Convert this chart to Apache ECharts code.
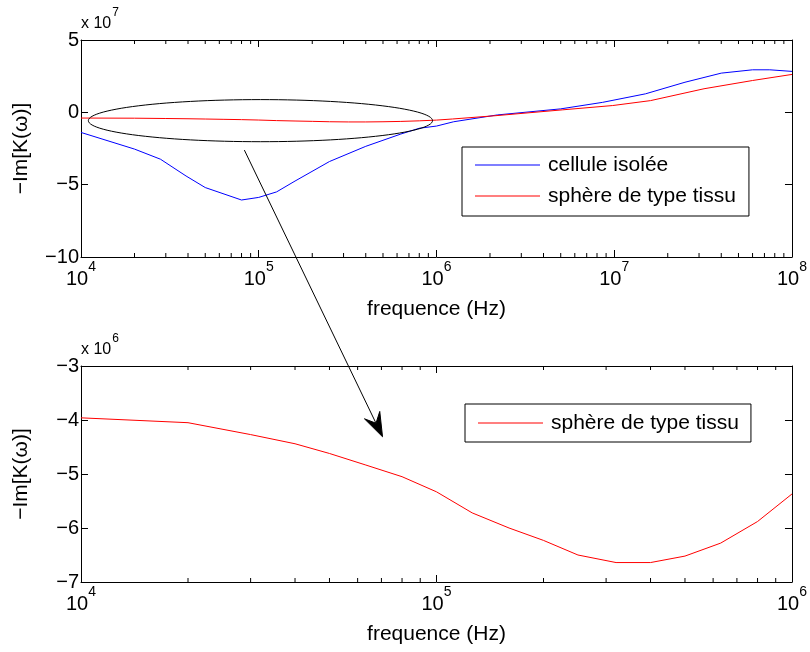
<!DOCTYPE html>
<html>
<head>
<meta charset="utf-8">
<script src="https://cdn.jsdelivr.net/npm/echarts@6/dist/echarts.min.js"></script>
<style>html,body{margin:0;padding:0;background:#fff;}#c{width:810px;height:652px;}</style>
</head>
<body>
<div id="c"></div>
<script>
// ---- data (top plot, values x 1e7) ----
var blueFreq = [1e4, 2e4, 2.8e4, 3.9e4, 5e4, 8e4, 1e5, 1.26e5, 1.6e5, 2.5e5, 4e5, 6.3e5, 8e5, 1e6, 1.25e6, 2.2e6, 5e6, 8.6e6, 1.5e7, 2.5e7, 4e7, 6e7, 7.5e7, 1e8];
var blueVal  = [-1.39, -2.54, -3.24, -4.40, -5.2, -6.06, -5.88, -5.5, -4.75, -3.4, -2.35, -1.5, -1.1, -0.95, -0.65, -0.18, 0.24, 0.69, 1.28, 2.08, 2.71, 2.94, 2.94, 2.83];
var redTopFreq = [1e4, 2e4, 3e4, 4e4, 5e4, 6.3e4, 8e4, 1e5, 1.26e5, 1.6e5, 2e5, 2.5e5, 3.2e5, 4e5, 5e5, 6.3e5, 8e5, 1e6, 1.23e6, 2.16e6, 5.1e6, 9.8e6, 1.6e7, 3.2e7, 6e7, 1e8];
var redTopVal  = [-0.396, -0.405, -0.427, -0.444, -0.462, -0.483, -0.505, -0.533, -0.572, -0.6, -0.623, -0.65, -0.664, -0.664, -0.652, -0.628, -0.588, -0.537, -0.46, -0.23, 0.17, 0.47, 0.81, 1.63, 2.2, 2.62];
// ---- data (bottom plot, values x 1e6) ----
var redBotFreq = [1e4, 2e4, 3e4, 4e4, 5e4, 6.3e4, 8e4, 1e5, 1.26e5, 1.6e5, 2e5, 2.5e5, 3.2e5, 4e5, 5e5, 6.3e5, 8e5, 1e6];
var redBotVal  = [-3.96, -4.05, -4.27, -4.44, -4.62, -4.83, -5.05, -5.33, -5.72, -6.0, -6.23, -6.5, -6.64, -6.64, -6.52, -6.28, -5.88, -5.37];
// ---- axes ----
var topXMin = 1e4, topXMax = 1e8, topYMin = -10, topYMax = 5, topYStep = 5;
var botXMin = 1e4, botXMax = 1e6, botYMin = -7, botYMax = -3, botYStep = 1;
var topMinor = [2e4,3e4,4e4,5e4,6e4,7e4,8e4,9e4,2e5,3e5,4e5,5e5,6e5,7e5,8e5,9e5,2e6,3e6,4e6,5e6,6e6,7e6,8e6,9e6,2e7,3e7,4e7,5e7,6e7,7e7,8e7,9e7];
var botMinor = [2e4,3e4,4e4,5e4,6e4,7e4,8e4,9e4,2e5,3e5,4e5,5e5,6e5,7e5,8e5,9e5];
var seriesNames = ['cellule isolée', 'sphère de type tissu'];
var yName = '\u2212Im[K(\u03c9)]';
var xName = 'frequence (Hz)';
var topExp = 7, botExp = 6;
// annotation (data coordinates)
var ellipseX = [1.1e4, 9.5e5], ellipseY = [-2.03, 0.88];
var arrowFrom = [8.3e4, -2.61], arrowTo = [7.05e4, -4.31];

var FONT = 'Liberation Sans, Arial, sans-serif';
function zip(a, b) { return a.map(function (v, i) { return [v, b[i]]; }); }
function minus(v) { return v < 0 ? '\u2212' + Math.abs(v) : String(v); }
function pow10(v) { return '{b|10}{s|' + Math.round(Math.log10(v)) + '}'; }
var powRich = {
  b: { fontSize: 20, fontFamily: FONT, color: '#000', verticalAlign: 'bottom', lineHeight: 22 },
  s: { fontSize: 14, fontFamily: FONT, color: '#000', verticalAlign: 'bottom', padding: [0, 0, 15, 0], lineHeight: 14 }
};
var expRich = {
  b: { fontSize: 16, fontFamily: FONT, color: '#000', verticalAlign: 'bottom', lineHeight: 16 },
  s: { fontSize: 12, fontFamily: FONT, color: '#000', verticalAlign: 'bottom', padding: [0, 0, 13, 1], lineHeight: 12 }
};
function xAx(grid, mn, mx, pos) {
  var main = pos === 'bottom';
  return {
    type: 'log', logBase: 10, gridIndex: grid, min: mn, max: mx, position: pos,
    axisLine: { show: true, onZero: false, lineStyle: { color: '#000', width: 1 } },
    axisTick: { show: true, inside: true, length: 7, lineStyle: { color: '#000' } },
    axisLabel: { show: main, formatter: pow10, rich: powRich, margin: 10, color: '#000' },
    splitLine: { show: false },
    name: main ? xName : '', nameLocation: 'middle', nameGap: 42,
    nameTextStyle: { fontSize: 21, fontFamily: FONT, color: '#000' }
  };
}
function yAx(grid, mn, mx, step, pos) {
  var main = pos === 'left';
  return {
    type: 'value', gridIndex: grid, min: mn, max: mx, interval: step, position: pos,
    axisLine: { show: true, onZero: false, lineStyle: { color: '#000', width: 1 } },
    axisTick: { show: true, inside: true, length: 7, lineStyle: { color: '#000' } },
    axisLabel: { show: main, formatter: minus, fontSize: 20, fontFamily: FONT, color: '#000', margin: 2 },
    splitLine: { show: false },
    name: main ? yName : '', nameLocation: 'middle', nameGap: 49, nameRotate: 90,
    nameTextStyle: { fontSize: 21, fontFamily: FONT, color: '#000' }
  };
}
function minorSeries(xi, yi, ticks, ymin, ymax) {
  return {
    type: 'custom', xAxisIndex: xi, yAxisIndex: yi, silent: true, z: 5,
    data: ticks.map(function (t) { return [t]; }),
    renderItem: function (params, api) {
      var b = api.coord([api.value(0), ymin]);
      var t = api.coord([api.value(0), ymax]);
      var st = { stroke: '#000', lineWidth: 1 };
      return { type: 'group', children: [
        { type: 'line', shape: { x1: b[0], y1: b[1], x2: b[0], y2: b[1] - 4 }, style: st },
        { type: 'line', shape: { x1: t[0], y1: t[1], x2: t[0], y2: t[1] + 4 }, style: st }
      ]};
    }
  };
}
var chart = echarts.init(document.getElementById('c'), null, { renderer: 'canvas' });
var legendBase = {
  orient: 'vertical', icon: 'rect', itemWidth: 65, itemHeight: 1, itemGap: 9,
  borderColor: '#000', borderWidth: 1, borderRadius: 0, backgroundColor: '#fff',
  textStyle: { fontSize: 21, fontFamily: FONT, color: '#000', lineHeight: 22, padding: [0, 0, 0, 3] }
};
chart.setOption({
  animation: false,
  backgroundColor: '#fff',
  textStyle: { fontFamily: FONT },
  grid: [
    { left: 81, top: 40, width: 712, height: 217 },
    { left: 81, top: 366, width: 712, height: 216 }
  ],
  xAxis: [
    xAx(0, topXMin, topXMax, 'bottom'), xAx(0, topXMin, topXMax, 'top'),
    xAx(1, botXMin, botXMax, 'bottom'), xAx(1, botXMin, botXMax, 'top')
  ],
  yAxis: [
    yAx(0, topYMin, topYMax, topYStep, 'left'), yAx(0, topYMin, topYMax, topYStep, 'right'),
    yAx(1, botYMin, botYMax, botYStep, 'left'), yAx(1, botYMin, botYMax, botYStep, 'right')
  ],
  legend: [
    Object.assign({}, legendBase, { left: 462, top: 147, padding: [7, 13, 9, 13], data: seriesNames }),
    Object.assign({}, legendBase, { left: 465, top: 404, padding: [8, 12, 8, 13], data: [{ name: 'bottom' }],
      formatter: function () { return seriesNames[1]; } })
  ],
  series: [
    { name: seriesNames[0], type: 'line', xAxisIndex: 0, yAxisIndex: 0, data: zip(blueFreq, blueVal), showSymbol: false, symbol: 'none', lineStyle: { color: '#0000ff', width: 1 }, itemStyle: { color: '#0000ff' }, z: 3 },
    { name: seriesNames[1], type: 'line', xAxisIndex: 0, yAxisIndex: 0, data: zip(redTopFreq, redTopVal), showSymbol: false, symbol: 'none', lineStyle: { color: '#ff0000', width: 1 }, itemStyle: { color: '#ff0000' }, z: 3 },
    { name: 'bottom', type: 'line', xAxisIndex: 2, yAxisIndex: 2, data: zip(redBotFreq, redBotVal), showSymbol: false, symbol: 'none', lineStyle: { color: '#ff0000', width: 1 }, itemStyle: { color: '#ff0000' }, z: 3 },
    minorSeries(0, 0, topMinor, topYMin, topYMax),
    minorSeries(2, 2, botMinor, botYMin, botYMax)
  ]
});

// annotations from data coordinates
var e0 = chart.convertToPixel({ xAxisIndex: 0, yAxisIndex: 0 }, [ellipseX[0], ellipseY[0]]);
var e1 = chart.convertToPixel({ xAxisIndex: 0, yAxisIndex: 0 }, [ellipseX[1], ellipseY[1]]);
var cx = (e0[0] + e1[0]) / 2, cy = (e0[1] + e1[1]) / 2, rx = Math.abs(e1[0] - e0[0]) / 2, ry = Math.abs(e1[1] - e0[1]) / 2;
var ell = [];
for (var i = 0; i < 120; i++) { var a = i / 120 * Math.PI * 2; ell.push([cx + rx * Math.cos(a), cy + ry * Math.sin(a)]); }
var p0 = chart.convertToPixel({ xAxisIndex: 0, yAxisIndex: 0 }, arrowFrom);
var p1 = chart.convertToPixel({ xAxisIndex: 2, yAxisIndex: 2 }, arrowTo);
var dx = p1[0] - p0[0], dy = p1[1] - p0[1], L = Math.sqrt(dx * dx + dy * dy);
var ux = dx / L, uy = dy / L, nx = -uy, ny = ux;
var hl = 24, hw = 8.5, notch = 15;
var head = [
  [p1[0], p1[1]],
  [p1[0] - ux * hl + nx * hw, p1[1] - uy * hl + ny * hw],
  [p1[0] - ux * notch, p1[1] - uy * notch],
  [p1[0] - ux * hl - nx * hw, p1[1] - uy * hl - ny * hw]
];
chart.setOption({
  graphic: [
    { type: 'polygon', shape: { points: ell }, style: { fill: 'none', stroke: '#000', lineWidth: 1 }, z: 10, silent: true },
    { type: 'line', shape: { x1: p0[0], y1: p0[1], x2: p1[0] - ux * notch, y2: p1[1] - uy * notch }, style: { stroke: '#000', lineWidth: 1 }, z: 10, silent: true },
    { type: 'polygon', shape: { points: head }, style: { fill: '#000', stroke: '#000', lineWidth: 1 }, z: 10, silent: true },
    { type: 'text', left: 81, top: 7, z: 10, style: { text: '{b|x 10}{s|' + topExp + '}', rich: expRich } },
    { type: 'text', left: 81, top: 333, z: 10, style: { text: '{b|x 10}{s|' + botExp + '}', rich: expRich } }
  ]
});
</script>
</body>
</html>
